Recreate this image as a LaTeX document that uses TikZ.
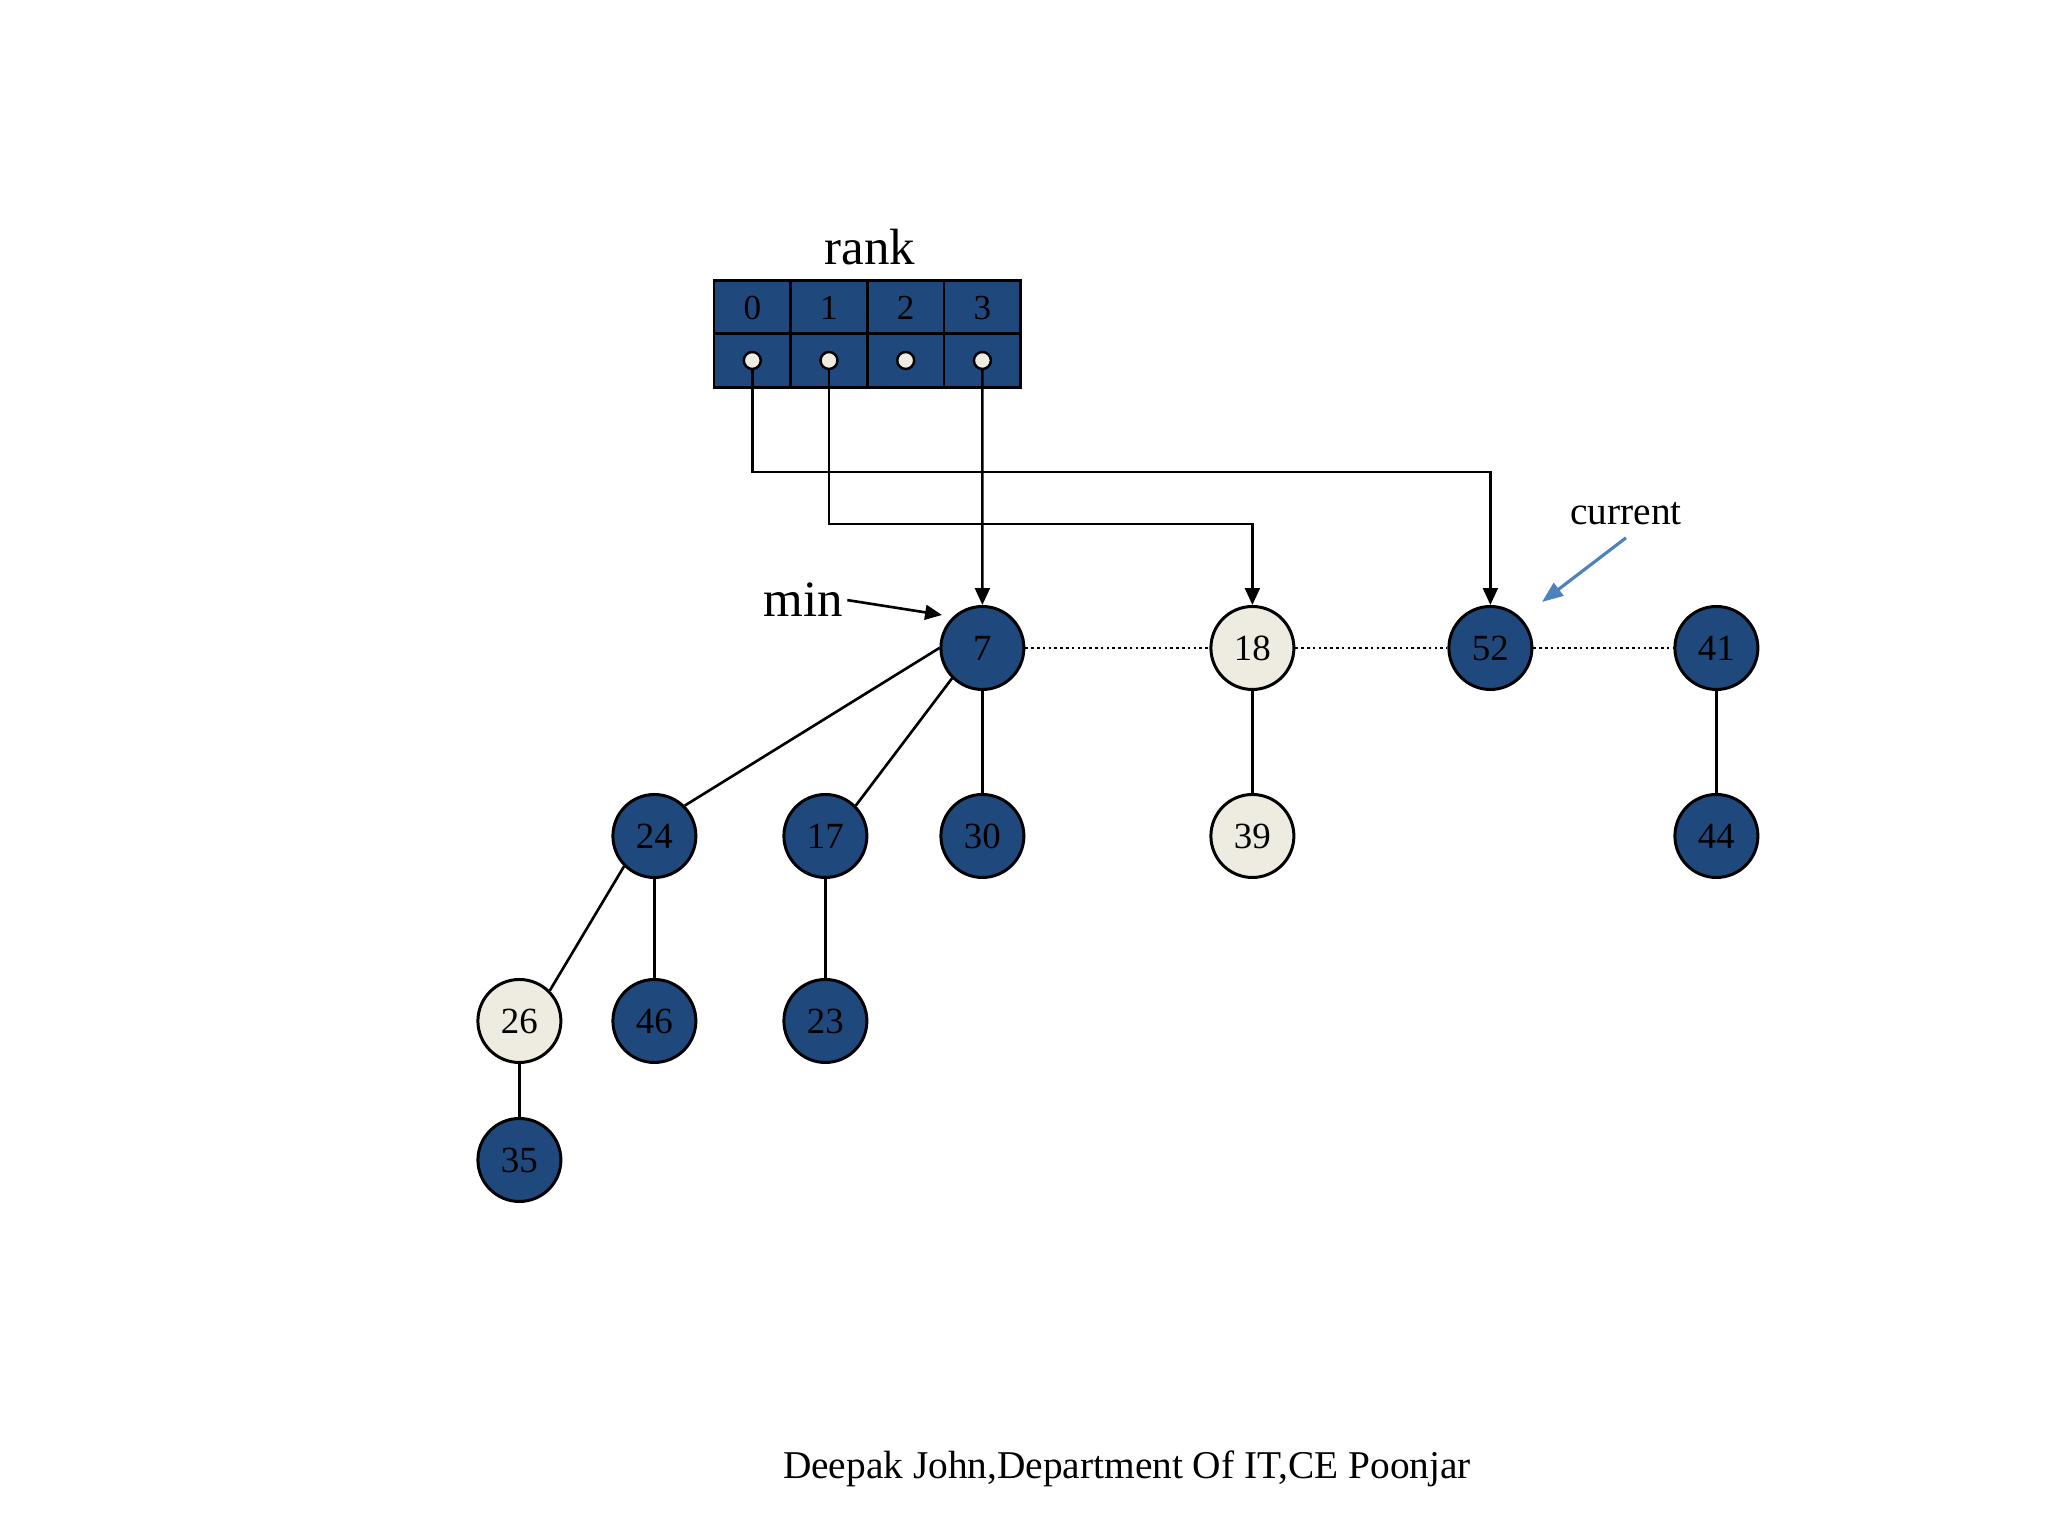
\documentclass[tikz,border=0pt]{standalone}
\usepackage{fontspec}
\setmainfont{Liberation Serif}
\usetikzlibrary{arrows.meta}
\definecolor{heapBlue}{RGB}{31,73,125}
\definecolor{heapCream}{RGB}{238,236,225}
\definecolor{ptrBlue}{RGB}{79,129,189}

\begin{document}
\begin{tikzpicture}[node distance=1.88cm,
	    tnode/.style={circle, draw=black, fill=heapBlue, line width=0.85pt, minimum size=0.83cm, inner sep=0pt, font=\fontsize{10.5}{12}\selectfont},
	    tmark/.style={tnode, fill=heapCream},
	    cell/.style={rectangle, draw=black, fill=heapBlue, line width=0.8pt, minimum width=0.767cm, minimum height=0.545cm, inner sep=0pt, font=\fontsize{10}{12}\selectfont},
	    slot/.style={circle, draw=black, fill=heapCream, line width=0.7pt, minimum size=0.17cm, inner sep=0pt},
	    edge/.style={draw=black, line width=0.75pt},
	    sib/.style={draw=black, line width=0.75pt, dash pattern=on 0.75pt off 0.9pt},
	    line/.style={draw=black, line width=0.75pt, -{Triangle[length=4.8pt, width=4.2pt]}}]
	    
	    \useasboundingbox (0,0) rectangle (20.48,15.36);
	    
	    \node [font=\fontsize{14.5}{17}\selectfont, anchor=base] (rank) at (8.70,12.71) {rank};
	    \foreach \i in {0,...,3} {
	        \node [cell] (c\i) at ({7.523+0.767*\i},12.28) {\i};
	        \node [cell] (b\i) at ({7.523+0.767*\i},11.755) {};
	        \node [slot] (p\i) at (b\i) {};
	    }
	    
	    \node [tnode] (n7) at (9.824,8.88) {7};
	    \node [tmark, right of=n7, node distance=2.70cm] (n18) {18};
	    \node [tnode, right of=n18, node distance=2.38cm] (n52) {52};
	    \node [tnode, right of=n52, node distance=2.26cm] (n41) {41};
	    
	    \node [tnode, below of=n7] (n30) {30};
	    \node [tnode, left of=n30, node distance=1.57cm] (n17) {17};
	    \node [tnode, left of=n17, node distance=1.71cm] (n24) {24};
	    \node [tmark, below of=n18] (n39) {39};
	    \node [tnode, below of=n41] (n44) {44};
	    \node [tnode, below of=n24, node distance=1.85cm] (n46) {46};
	    \node [tnode, below of=n17, node distance=1.85cm] (n23) {23};
	    \node [tmark, left of=n46, node distance=1.35cm] (n26) {26};
	    \node [tnode, below of=n26, node distance=1.39cm] (n35) {35};
	    
	    \path [sib] (n7) -- (n18) (n18) -- (n52) (n52) -- (n41);
	    \path [edge] (n7.west) -- (n24.north east);
	    \path [edge] (n7.south west) -- (n17.north east);
	    \path [edge] (n24.south west) -- (n26.north east);
	    \foreach \a/\b in {n7/n30, n18/n39, n41/n44, n24/n46, n17/n23, n26/n35}
	        \path [edge] (\a) -- (\b);
	    
	    \coordinate (k0) at (0,10.64);
	    \coordinate (k1) at (0,10.12);
	    \path [line] (p0) -- (p0 |- k0) -| (n52);
	    \path [line] (p1) -- (p1 |- k1) -| (n18);
	    \path [line] (p3) -- (n7);
	    
	    \node [font=\fontsize{14.5}{17}\selectfont, anchor=base, inner sep=1pt] (min) at (8.035,9.19) {min};
	    \coordinate (minpt) at (9.42,9.21);
	    \path [line] (min.east) -- (minpt);
	    
	    \node [font=\fontsize{11.2}{13}\selectfont, anchor=base] (cur) at (16.26,10.11) {current};
	    \coordinate (curpt) at (15.42,9.34);
	    \path [draw=ptrBlue, line width=0.9pt, -{Triangle[length=6pt, width=4.5pt]}] (cur.south) -- (curpt);
	    
	    \node [font=\fontsize{11.2}{13}\selectfont, anchor=base] (foot) at (11.27,0.57) {Deepak John,Department Of IT,CE Poonjar};
	\end{tikzpicture}
\end{document}
